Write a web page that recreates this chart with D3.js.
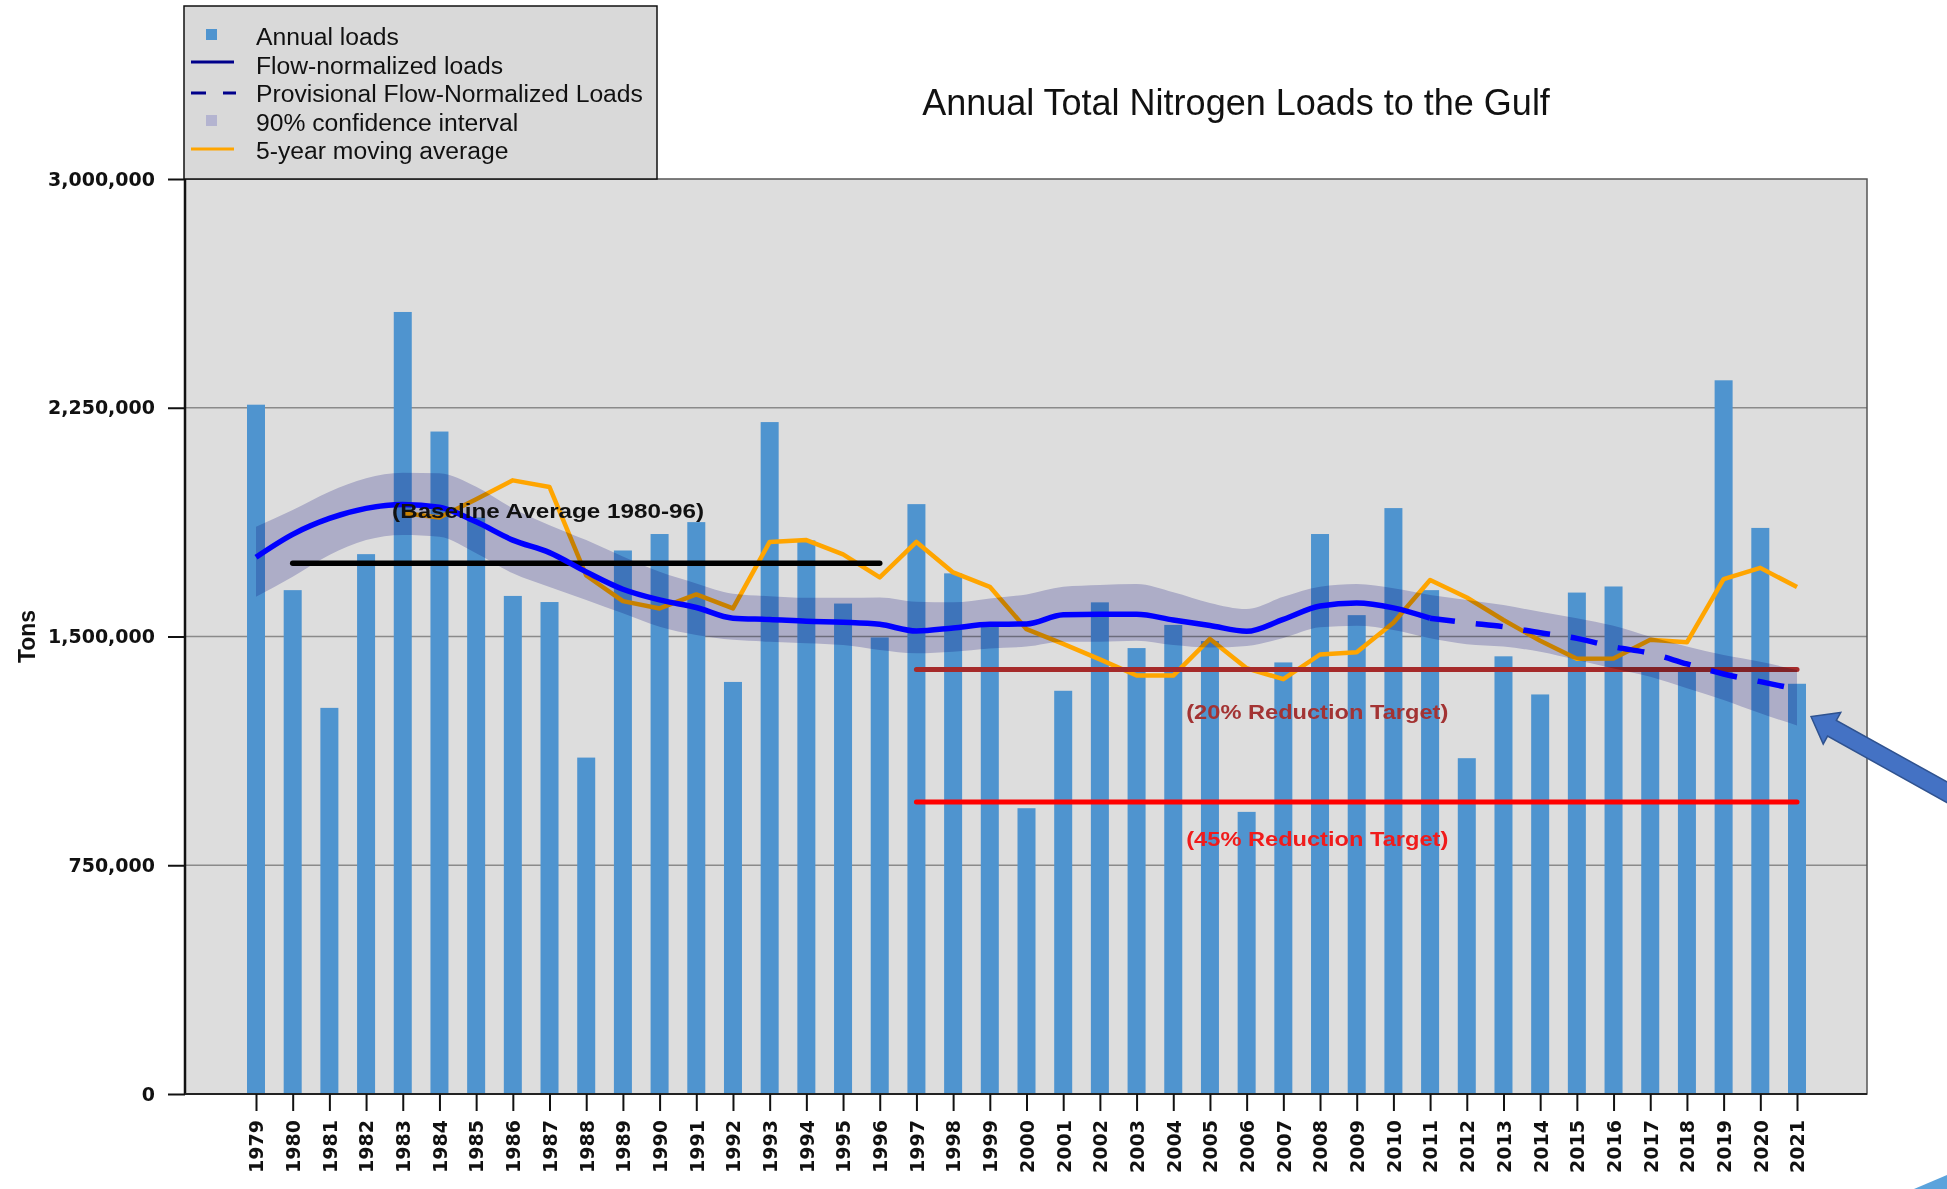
<!DOCTYPE html>
<html>
<head>
<meta charset="utf-8">
<script src="https://d3js.org/d3.v7.min.js"></script>
<style>
  body { margin: 0; background: #ffffff; }
</style>
</head>
<body>
<div id="NitrogenChart"></div>
<script>
// data (tons)
var years = [1979, 1980, 1981, 1982, 1983, 1984, 1985, 1986, 1987, 1988,
    1989, 1990, 1991, 1992, 1993, 1994, 1995, 1996, 1997, 1998,
    1999, 2000, 2001, 2002, 2003, 2004, 2005, 2006, 2007, 2008,
    2009, 2010, 2011, 2012, 2013, 2014, 2015, 2016, 2017, 2018,
    2019, 2020, 2021];
var annualLoads = [2260000, 1652000, 1266000, 1770000, 2564000, 2172000, 1890000, 1633000, 1613000, 1103000,
    1782000, 1836000, 1875000, 1351000, 2203000, 1815000, 1608000, 1497000, 1934000, 1707000,
    1540000, 937000, 1322000, 1612000, 1462000, 1538000, 1485000, 925000, 1415000, 1836000,
    1570000, 1921000, 1652000, 1101000, 1435000, 1310000, 1644000, 1664000, 1393000, 1400000,
    2340000, 1856000, 1345000];
var flowNormalized = [1760000, 1835000, 1887000, 1920000, 1933000, 1924000, 1876000, 1816000, 1775000, 1712000,
    1655000, 1620000, 1595000, 1560000, 1556000, 1550000, 1547000, 1540000, 1518000, 1528000,
    1540000, 1541000, 1571000, 1573000, 1573000, 1554000, 1536000, 1517000, 1556000, 1600000,
    1610000, 1594000, 1560000, 1545000, 1532000, 1512000, 1494000, 1466000, 1445000, 1410000,
    1377000, 1352000, 1327000];
var ciUpper = [1860000, 1915000, 1975000, 2019000, 2037000, 2035000, 1991000, 1920000, 1865000, 1816000,
    1762000, 1712000, 1674000, 1640000, 1632000, 1627000, 1627000, 1628000, 1614000, 1612000,
    1625000, 1638000, 1663000, 1669000, 1672000, 1645000, 1610000, 1590000, 1630000, 1663000,
    1672000, 1658000, 1636000, 1620000, 1603000, 1581000, 1560000, 1535000, 1499000, 1467000,
    1439000, 1417000, 1390000];
var ciLower = [1630000, 1696000, 1767000, 1816000, 1833000, 1827000, 1773000, 1707000, 1662000, 1620000,
    1576000, 1532000, 1505000, 1489000, 1483000, 1478000, 1472000, 1456000, 1445000, 1450000,
    1461000, 1467000, 1483000, 1483000, 1486000, 1472000, 1464000, 1469000, 1495000, 1530000,
    1535000, 1521000, 1494000, 1475000, 1467000, 1450000, 1423000, 1395000, 1368000, 1330000,
    1292000, 1248000, 1208000];
var movingAverage = [null, null, null, null, 1905000, 1890000, 1950000, 2012000, 1990000, 1700000,
    1616000, 1592000, 1638000, 1592000, 1810000, 1816000, 1769000, 1694000, 1810000, 1710000,
    1663000, 1524000, 1476000, 1425000, 1372000, 1372000, 1492000, 1396000, 1360000, 1441000,
    1448000, 1545000, 1685000, 1628000, 1554000, 1486000, 1427000, 1428000, 1489000, 1481000,
    1688000, 1725000, 1662000];
var provisionalFrom = 2011;
var baselineAverage = 1740000;   // 1980-96
var target20 = 1392000;
var target45 = 957000;
var yTicks = [0, 750000, 1500000, 2250000, 3000000];

var width = 1947, height = 1189;
var plot = {left: 185, right: 1867, top: 179, bottom: 1094};

var svg = d3.select("#NitrogenChart")
    .append("svg")
    .attr("width", width)
    .attr("height", height)
    .style("font-family", "'Liberation Sans', Arial, sans-serif");

var x = d3.scaleLinear()
    .domain([1979, 2021])
    .range([256, 1797]);
var y = d3.scaleLinear()
    .domain([0, 3000000])
    .range([plot.bottom, plot.top]);

// plot background
svg.append("rect")
    .attr("x", plot.left)
    .attr("y", plot.top)
    .attr("width", plot.right - plot.left)
    .attr("height", plot.bottom - plot.top)
    .attr("fill", "#dddddd");

// gridlines
svg.append("g")
    .selectAll("line")
    .data(yTicks.slice(1, -1))
    .enter()
    .append("line")
    .attr("x1", plot.left)
    .attr("x2", plot.right)
    .attr("y1", function(d) { return y(d); })
    .attr("y2", function(d) { return y(d); })
    .attr("stroke", "#8a8a8a")
    .attr("stroke-width", 1.5);

// Bars
svg.append("g")
    .selectAll("rect")
    .data(years)
    .enter()
    .append("rect")
    .attr("fill", "#4f94cf")
    .attr("x", function(d) { return x(d) - 9; })
    .attr("y", function(d, i) { return y(annualLoads[i]); })
    .attr("width", 18)
    .attr("height", function(d, i) { return y(0) - y(annualLoads[i]); });

// 5-year moving average
var maLine = d3.line()
    .defined(function(d) { return d[1] != null; })
    .x(function(d) { return x(d[0]); })
    .y(function(d) { return y(d[1]); });
svg.append("path")
    .datum(years.map(function(yr, i) { return [yr, movingAverage[i]]; }))
    .attr("d", maLine)
    .attr("fill", "none")
    .attr("stroke", "#ffa500")
    .attr("stroke-width", 4.5)
    .attr("stroke-linejoin", "round");

// baseline and reduction targets
svg.append("line")
    .attr("x1", x(1980)).attr("x2", x(1996))
    .attr("y1", y(baselineAverage)).attr("y2", y(baselineAverage))
    .attr("stroke", "#000000").attr("stroke-width", 5.5).attr("stroke-linecap", "round");
svg.append("line")
    .attr("x1", x(1997)).attr("x2", x(2021))
    .attr("y1", y(target20)).attr("y2", y(target20))
    .attr("stroke", "#a52a2a").attr("stroke-width", 5).attr("stroke-linecap", "round");
svg.append("line")
    .attr("x1", x(1997)).attr("x2", x(2021))
    .attr("y1", y(target45)).attr("y2", y(target45))
    .attr("stroke", "#ff0000").attr("stroke-width", 5).attr("stroke-linecap", "round");

// 90% confidence interval
var band = d3.area()
    .x(function(d, i) { return x(years[i]); })
    .y0(function(d, i) { return y(ciLower[i]); })
    .y1(function(d, i) { return y(ciUpper[i]); })
    .curve(d3.curveMonotoneX);
svg.append("path")
    .datum(years)
    .attr("d", band)
    .attr("fill", "#c8c8e6")
    .style("mix-blend-mode", "multiply");

// flow-normalized loads, solid then provisional (dashed)
var fnLine = d3.line()
    .x(function(d) { return x(d[0]); })
    .y(function(d) { return y(d[1]); })
    .curve(d3.curveMonotoneX);
var fnData = years.map(function(yr, i) { return [yr, flowNormalized[i]]; });
svg.append("path")
    .datum(fnData.filter(function(d) { return d[0] <= provisionalFrom; }))
    .attr("d", fnLine)
    .attr("fill", "none")
    .attr("stroke", "#0000ff")
    .attr("stroke-width", 5.5);
svg.append("path")
    .datum(fnData.filter(function(d) { return d[0] >= provisionalFrom; }))
    .attr("d", fnLine)
    .attr("fill", "none")
    .attr("stroke", "#0000ff")
    .attr("stroke-width", 5.5)
    .attr("stroke-dasharray", "27,21")
    .attr("stroke-dashoffset", 2);

// annotations
svg.append("text")
    .attr("x", x(1982) + 26)
    .attr("y", y(baselineAverage) - 45)
    .attr("textLength", 312)
    .attr("lengthAdjust", "spacingAndGlyphs")
    .style("font-size", "21px")
    .style("font-weight", "bold")
    .attr("fill", "#111111")
    .text("(Baseline Average 1980-96)");
svg.append("text")
    .attr("x", x(2004) + 13)
    .attr("y", y(target20) + 50)
    .attr("textLength", 262)
    .attr("lengthAdjust", "spacingAndGlyphs")
    .style("font-size", "21px")
    .style("font-weight", "bold")
    .attr("fill", "#a33333")
    .text("(20% Reduction Target)");
svg.append("text")
    .attr("x", x(2004) + 13)
    .attr("y", y(target45) + 44)
    .attr("textLength", 262)
    .attr("lengthAdjust", "spacingAndGlyphs")
    .style("font-size", "21px")
    .style("font-weight", "bold")
    .attr("fill", "#f01c1c")
    .text("(45% Reduction Target)");

// plot frame
svg.append("rect")
    .attr("x", plot.left)
    .attr("y", plot.top)
    .attr("width", plot.right - plot.left)
    .attr("height", plot.bottom - plot.top)
    .attr("fill", "none")
    .attr("stroke", "#555555")
    .attr("stroke-width", 1.5);
svg.append("line")
    .attr("x1", plot.left).attr("x2", plot.left)
    .attr("y1", plot.top).attr("y2", plot.bottom)
    .attr("stroke", "#111111").attr("stroke-width", 2.5);
svg.append("line")
    .attr("x1", plot.left).attr("x2", plot.right)
    .attr("y1", plot.bottom).attr("y2", plot.bottom)
    .attr("stroke", "#222222").attr("stroke-width", 2);

// Y axis
var yAxis = svg.append("g")
    .attr("transform", "translate(" + plot.left + ",0)")
    .call(d3.axisLeft(y)
        .tickValues(yTicks)
        .tickFormat(d3.format(","))
        .tickSize(17)
        .tickSizeOuter(0)
        .tickPadding(13));
yAxis.select(".domain").remove();
yAxis.selectAll("line").attr("stroke", "#111111").attr("stroke-width", 2);
yAxis.selectAll("text")
    .attr("fill", "#111111")
    .style("font-family", "'DejaVu Sans', Verdana, sans-serif")
    .style("font-weight", "bold")
    .style("font-size", "19px");

svg.append("text")
    .attr("transform", "translate(27," + y(1500000) + ") rotate(-90)")
    .attr("text-anchor", "middle")
    .attr("dy", "0.35em")
    .style("font-size", "23px")
    .style("font-weight", "bold")
    .attr("fill", "#111111")
    .text("Tons");

// X axis
var xAxis = svg.append("g")
    .attr("transform", "translate(0," + plot.bottom + ")")
    .call(d3.axisBottom(x)
        .tickValues(years)
        .tickFormat(function(d) { return d; })
        .tickSize(17)
        .tickSizeOuter(0));
xAxis.select(".domain").remove();
xAxis.selectAll("line").attr("stroke", "#111111").attr("stroke-width", 2);
xAxis.selectAll("text")
    .attr("transform", "rotate(-90)")
    .attr("text-anchor", "end")
    .attr("x", -26)
    .attr("y", 0)
    .attr("dy", "0.36em")
    .attr("fill", "#111111")
    .style("font-family", "'DejaVu Sans', Verdana, sans-serif")
    .style("font-weight", "bold")
    .style("font-size", "19px");

// title
svg.append("text")
    .attr("x", 1236)
    .attr("y", 115)
    .attr("text-anchor", "middle")
    .style("font-size", "36px")
    .attr("fill", "#111111")
    .text("Annual Total Nitrogen Loads to the Gulf");

// Legend
var legend = svg.append("g");
legend.append("rect")
    .attr("x", 184).attr("y", 6)
    .attr("width", 473).attr("height", 173)
    .attr("fill", "#d9d9d9")
    .attr("stroke", "#111111")
    .attr("stroke-width", 1.5);
var legendItems = ["Annual loads", "Flow-normalized loads", "Provisional Flow-Normalized Loads",
    "90% confidence interval", "5-year moving average"];
legend.selectAll("text.item")
    .data(legendItems)
    .enter()
    .append("text")
    .attr("class", "item")
    .attr("x", 256)
    .attr("y", function(d, i) { return 45 + i * 28.6; })
    .style("font-size", "24.7px")
    .attr("fill", "#111111")
    .text(function(d) { return d; });
legend.append("rect")
    .attr("x", 206).attr("y", 29).attr("width", 11).attr("height", 11)
    .attr("fill", "#4f94cf");
legend.append("line")
    .attr("x1", 191).attr("x2", 234).attr("y1", 62).attr("y2", 62)
    .attr("stroke", "#00008b").attr("stroke-width", 3);
legend.append("line")
    .attr("x1", 191).attr("x2", 236).attr("y1", 93).attr("y2", 93)
    .attr("stroke", "#00008b").attr("stroke-width", 3)
    .attr("stroke-dasharray", "15,17");
legend.append("rect")
    .attr("x", 206).attr("y", 115).attr("width", 11).attr("height", 11)
    .attr("fill", "#b4b4d0");
legend.append("line")
    .attr("x1", 191).attr("x2", 234).attr("y1", 149).attr("y2", 149)
    .attr("stroke", "#ffa500").attr("stroke-width", 3);

// arrow pointing at the 2021 flow-normalized estimate
var tip = [x(2021) + 14, y(ciLower[ciLower.length - 1]) - 9];
svg.append("polygon")
    .attr("points", "0,0 24,18 24,9 175,9 175,-9 24,-9 24,-18")
    .attr("transform", "translate(" + tip[0] + "," + tip[1] + ") rotate(29.1)")
    .attr("fill", "#4472c4")
    .attr("stroke", "#2f528f")
    .attr("stroke-width", 1.5);

// slide corner decoration
svg.append("polygon")
    .attr("points", "1914,1189 1947,1175 1947,1189")
    .attr("fill", "#5ba3dc");
</script>
</body>
</html>
